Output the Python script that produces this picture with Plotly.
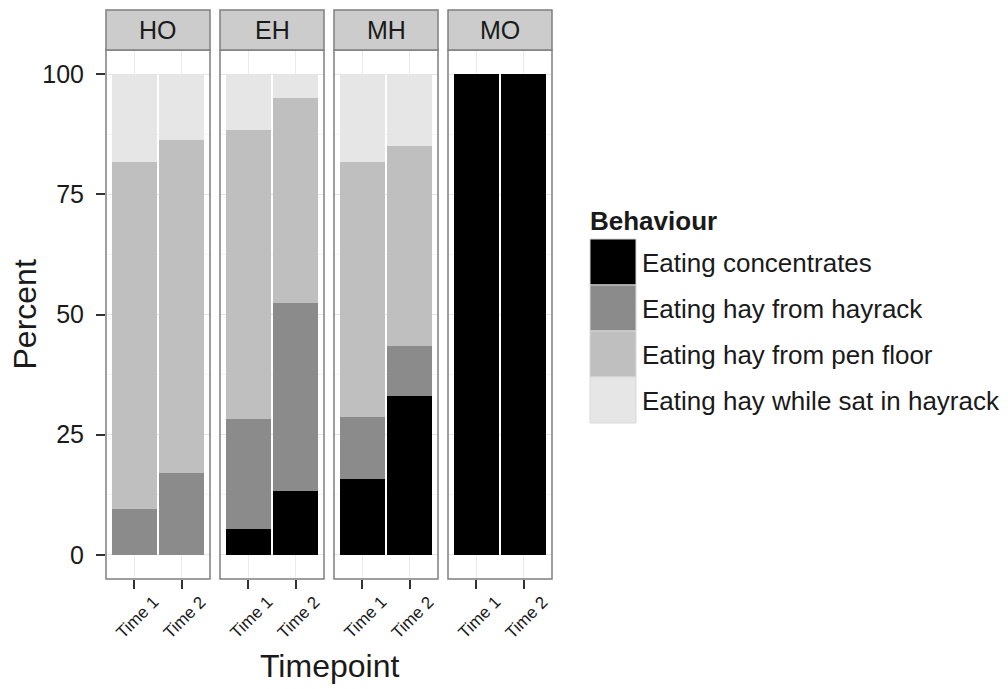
import plotly.graph_objects as go

facets = ["HO", "EH", "MH", "MO"]
timepoints = ["Time 1", "Time 2"]
behaviours = [
    "Eating concentrates",
    "Eating hay from hayrack",
    "Eating hay from pen floor",
    "Eating hay while sat in hayrack",
]
greys = ["#000000", "#8b8b8b", "#bfbfbf", "#e6e6e6"]

# percent per facet, [Time 1, Time 2]
concentrates = [[0, 0], [5.4, 13.3], [15.7, 33.1], [100, 100]]
hay_hayrack = [[9.5, 17.0], [22.8, 39.0], [12.9, 10.4], [0, 0]]
hay_floor = [[72.3, 69.3], [60.2, 42.7], [53.1, 41.6], [0, 0]]
hay_sat = [[18.2, 13.7], [11.6, 5.0], [18.3, 14.9], [0, 0]]
series = [concentrates, hay_hayrack, hay_floor, hay_sat]

y_ticks = [0, 25, 50, 75, 100]

# page geometry (pixels); the page body adds an 8px margin round the figure
BODY = 8
W, H = 1008 - BODY, 689 - BODY
PLOT_L, PLOT_T, PW, PH = 106, 50, 446, 529
ML, MT = PLOT_L - BODY, PLOT_T - BODY
MR, MB = W - ML - PW, H - MT - PH
PANEL_W, STEP = 104, 114
STRIP_H = 40

FONT = "Liberation Sans, Arial, sans-serif"
TXT = "#1a1a1a"


def px_x(x):
    return (x - PLOT_L) / PW


def px_y(y):
    return (PLOT_T + PH - y) / PH


fig = go.Figure()

for i, facet in enumerate(facets):
    ax = "x" if i == 0 else f"x{i + 1}"
    for b, name in enumerate(behaviours):
        fig.add_trace(go.Bar(
            x=timepoints,
            y=series[b][i],
            name=name,
            marker_color=greys[b],
            marker_line_width=0,
            width=0.95,
            xaxis=ax,
            yaxis="y",
            showlegend=False,
            hoverinfo="skip",
        ))

layout_axes = {}
shapes = []
annotations = []
for i, facet in enumerate(facets):
    d0 = STEP * i / PW
    d1 = min((STEP * i + PANEL_W) / PW, 1)
    ax = "x" if i == 0 else f"x{i + 1}"
    key = "xaxis" if i == 0 else f"xaxis{i + 1}"
    layout_axes[key] = dict(
        domain=[d0, d1],
        anchor="y",
        type="category",
        categoryorder="array",
        categoryarray=timepoints,
        range=[-0.6, 1.6],
        showgrid=True,
        gridcolor="#ebebeb",
        gridwidth=1,
        ticks="outside",
        ticklen=9,
        tickwidth=1.5,
        tickcolor="#333333",
        showticklabels=False,
        showline=False,
        zeroline=False,
    )
    # panel border
    shapes.append(dict(
        type="rect", xref=f"{ax} domain", yref="y domain",
        x0=0, x1=1, y0=0, y1=1, layer="above",
        line=dict(color="#7f7f7f", width=1.5),
    ))
    # strip
    shapes.append(dict(
        type="rect", xref="paper", yref="paper",
        x0=d0, x1=d1, y0=1, y1=1 + STRIP_H / PH,
        fillcolor="#cccccc", line=dict(color="#7f7f7f", width=1.5),
    ))
    annotations.append(dict(
        text=facet, xref="paper", yref="paper",
        x=(d0 + d1) / 2, y=1 + STRIP_H / 2 / PH,
        xanchor="center", yanchor="middle",
        showarrow=False, font=dict(family=FONT, size=25, color=TXT),
    ))
    for t in timepoints:
        annotations.append(dict(
            text=t, xref=ax, yref="paper",
            x=t, y=-38.5 / PH, xshift=3,
            xanchor="center", yanchor="middle",
            textangle=-45, showarrow=False,
            font=dict(family=FONT, size=17, color=TXT),
        ))

fig.update_layout(
    **layout_axes,
    yaxis=dict(
        domain=[0, 1],
        range=[-5, 105],
        tickvals=y_ticks,
        showgrid=True,
        gridcolor="#e5e5e5",
        minor=dict(tickvals=[12.5, 37.5, 62.5, 87.5], showgrid=True,
                   gridcolor="#f3f3f3", ticks=""),
        ticks="outside",
        ticklen=9,
        tickwidth=1.5,
        tickcolor="#333333",
        ticklabelstandoff=7,
        tickfont=dict(family=FONT, size=25, color=TXT),
        zeroline=False,
        showline=False,
    ),
)

# axis titles
annotations.append(dict(
    text="Percent", xref="paper", yref="paper",
    x=px_x(24), y=0.5, xanchor="center", yanchor="middle",
    textangle=-90, showarrow=False,
    font=dict(family=FONT, size=32, color=TXT),
))
annotations.append(dict(
    text="Timepoint", xref="paper", yref="paper",
    x=px_x(329), y=px_y(666), xanchor="center", yanchor="middle",
    showarrow=False, font=dict(family=FONT, size=32, color=TXT),
))

# legend
annotations.append(dict(
    text="<b>Behaviour</b>", xref="paper", yref="paper",
    x=px_x(588), y=px_y(221), xanchor="left", yanchor="middle",
    showarrow=False, font=dict(family=FONT, size=26, color=TXT),
))
for k, name in enumerate(behaviours):
    top = 239 + 46 * k
    shapes.append(dict(
        type="rect", xref="paper", yref="paper",
        x0=px_x(590), x1=px_x(636), y0=px_y(top + 46), y1=px_y(top),
        fillcolor=greys[k], line=dict(color="#d9d9d9", width=1),
    ))
    annotations.append(dict(
        text=name, xref="paper", yref="paper",
        x=px_x(640), y=px_y(top + 24), xanchor="left", yanchor="middle",
        showarrow=False, font=dict(family=FONT, size=26, color=TXT),
    ))

fig.update_layout(
    width=W,
    height=H,
    margin=dict(l=ML, r=MR, t=MT, b=MB),
    barmode="stack",
    bargap=0,
    paper_bgcolor="white",
    plot_bgcolor="white",
    showlegend=False,
    shapes=shapes,
    annotations=annotations,
)

fig.write_html("out.html")
